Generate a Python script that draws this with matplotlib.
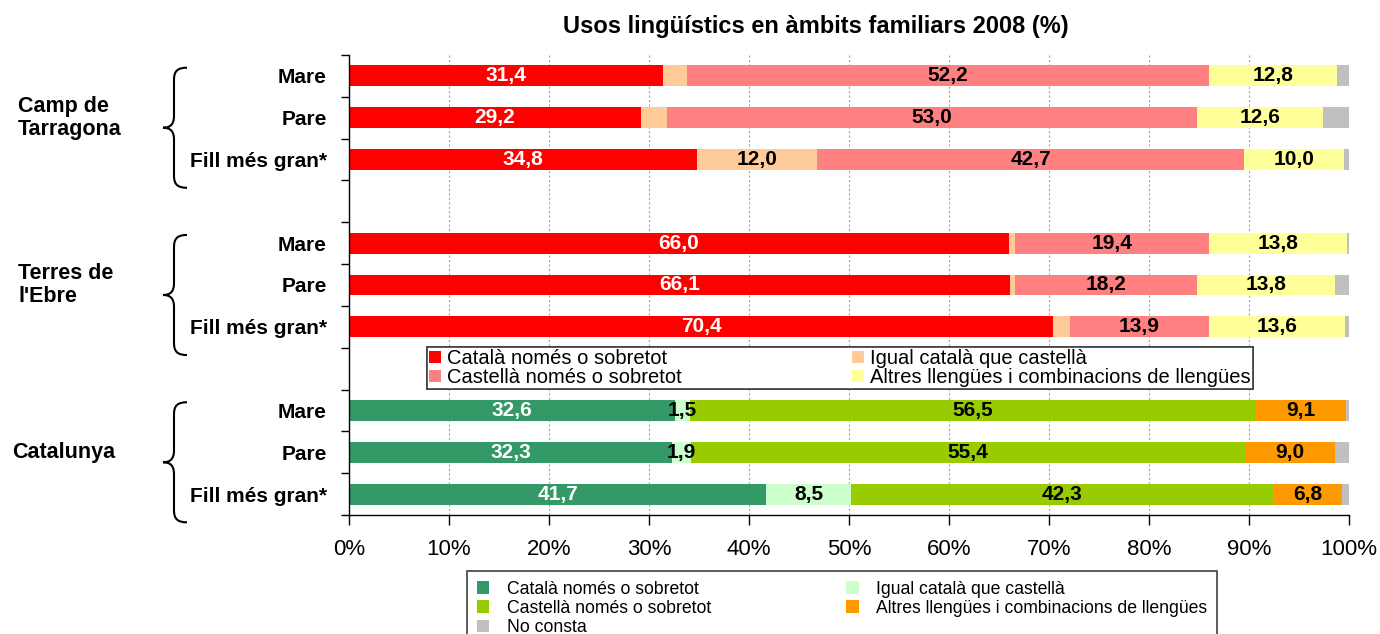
import numpy as np
import matplotlib
matplotlib.use('Agg')
import matplotlib.pyplot as plt
from matplotlib.path import Path
from matplotlib.patches import PathPatch
from matplotlib import transforms

plt.rcParams['font.family'] = ['Liberation Sans', 'DejaVu Sans']

# --- data (%), rows: Camp de Tarragona x3, Terres de l'Ebre x3, Catalunya x3
groups = ["Camp de\nTarragona", "Terres de\nl'Ebre", "Catalunya"]
members = ["Mare", "Pare", "Fill més gran*"]
catala = [31.4, 29.2, 34.8, 66.0, 66.1, 70.4, 32.6, 32.3, 41.7]
igual = [2.4, 2.6, 12.0, 0.6, 0.5, 1.7, 1.5, 1.9, 8.5]
castella = [52.2, 53.0, 42.7, 19.4, 18.2, 13.9, 56.5, 55.4, 42.3]
altres = [12.8, 12.6, 10.0, 13.8, 13.8, 13.6, 9.1, 9.0, 6.8]
no_consta = [1.2, 2.6, 0.5, 0.2, 1.4, 0.4, 0.3, 1.4, 0.7]
show_igual = [False, False, True, False, False, False, True, True, True]

seg_names = ['Català només o sobretot', 'Igual català que castellà',
             'Castellà només o sobretot',
             'Altres llengües i combinacions de llengües', 'No consta']
red_colors = ['#FF0000', '#FFCC99', '#FF8080', '#FFFF99', '#C0C0C0']
green_colors = ['#339966', '#CCFFCC', '#99CC00', '#FF9900', '#C0C0C0']

segments = [catala, igual, castella, altres, no_consta]
shows = [[True] * 9, show_igual, [True] * 9, [True] * 9, [False] * 9]
slots = np.array([0, 1, 2, 4, 5, 6, 8, 9, 10])

W, H = 1380, 634
fig = plt.figure(figsize=(W / 100, H / 100), dpi=100)
ax = fig.add_axes([349 / W, 1 - 515 / H, 1000 / W, 460 / H])

left = np.zeros(9)
cont_red, cont_green = [], []
for k, vals in enumerate(segments):
    vals = np.array(vals)
    cr = ax.barh(slots[:6], vals[:6], left=left[:6], height=0.5,
                 color=red_colors[k], zorder=2, label=seg_names[k])
    cg = ax.barh(slots[6:], vals[6:], left=left[6:], height=0.5,
                 color=green_colors[k], zorder=2, label=seg_names[k])
    left += vals
    labs = [f"{v:.1f}".replace('.', ',') if s else '' for v, s in zip(vals, shows[k])]
    col = 'white' if k == 0 else 'black'
    ax.bar_label(cr, labels=labs[:6], label_type='center', color=col,
                 fontsize=15, fontweight='bold', zorder=3)
    ax.bar_label(cg, labels=labs[6:], label_type='center', color=col,
                 fontsize=15, fontweight='bold', zorder=3)
    cont_red.append(cr)
    cont_green.append(cg)

ax.set_xlim(0, 100)
ax.set_ylim(10.5, -0.5)
ax.set_xticks(np.arange(0, 101, 10))
ax.set_xticklabels([f"{t}%" for t in range(0, 101, 10)], fontsize=16)
ax.tick_params(axis='x', direction='out', length=7, width=1, pad=10)
ax.set_yticks(np.arange(-0.5, 11, 1))
ax.set_yticklabels([])
ax.tick_params(axis='y', which='major', direction='out', length=6, width=1)
ax.set_yticks(slots, minor=True)
ax.set_yticklabels(members * 3, minor=True, fontsize=15, fontweight='bold')
ax.tick_params(axis='y', which='minor', length=0, pad=16)
ax.xaxis.grid(True, linestyle=(0, (2, 2)), color='#A6A6A6', linewidth=0.8, zorder=0)
ax.set_axisbelow(True)
for s in ['top', 'right']:
    ax.spines[s].set_visible(False)
for s in ['left', 'bottom']:
    ax.spines[s].set_linewidth(1)

# group labels and braces
blend = transforms.blended_transform_factory(fig.transFigure, ax.transData)
brace_tr = transforms.blended_transform_factory(ax.transAxes, ax.transData)
xe, xs, xt = -0.162, -0.175, -0.186
dx = 0.001
dy = 1 / 41.8
for g, name in enumerate(groups):
    c = slots[3 * g + 1]
    ax.text(18 / W if g < 2 else 12 / W, c, name, transform=blend, ha='left',
            va='center', fontsize=15.5, fontweight='bold', linespacing=1.1)
    tip = c + 10 * dy
    top, bot = tip - 60 * dy, tip + 60 * dy
    verts = [(xe, top), (xe - 9 * dx, top), (xs, top + 3 * dy), (xs, top + 12 * dy),
             (xs, tip - 12 * dy),
             (xs, tip - 3 * dy), (xs - 4 * dx, tip), (xt, tip),
             (xs - 4 * dx, tip), (xs, tip + 3 * dy), (xs, tip + 12 * dy),
             (xs, bot - 12 * dy),
             (xs, bot - 3 * dy), (xe - 9 * dx, bot), (xe, bot)]
    codes = [Path.MOVETO, Path.CURVE4, Path.CURVE4, Path.CURVE4, Path.LINETO,
             Path.CURVE4, Path.CURVE4, Path.CURVE4,
             Path.CURVE4, Path.CURVE4, Path.CURVE4, Path.LINETO,
             Path.CURVE4, Path.CURVE4, Path.CURVE4]
    ax.add_patch(PathPatch(Path(verts, codes), transform=brace_tr, fill=False,
                           lw=1.5, edgecolor='black', clip_on=False))

# legends
h1 = [cont_red[0], cont_red[2], cont_red[1], cont_red[3]]
l1 = [seg_names[0], seg_names[2], seg_names[1], seg_names[3]]
leg1 = ax.legend(h1, l1, loc='upper left',
                 bbox_to_anchor=(427 / W, 1 - 392 / H, 826 / W, 45 / H),
                 bbox_transform=fig.transFigure, mode='expand', ncol=2,
                 fontsize=14.5, fancybox=False, edgecolor='#404040',
                 borderaxespad=0, handlelength=0.6, handleheight=0.6,
                 handletextpad=0.3, labelspacing=0.0, borderpad=0.1,
                 framealpha=1)
leg1.get_frame().set_linewidth(1.2)
leg1.set_zorder(5)
ax.add_artist(leg1)

h2 = [cont_green[0], cont_green[2], cont_green[4], cont_green[1], cont_green[3]]
l2 = [seg_names[0], seg_names[2], seg_names[4], seg_names[1], seg_names[3]]
leg2 = fig.legend(h2, l2, loc='upper left',
                  bbox_to_anchor=(467 / W, 1 - 640 / H, 750 / W, 69 / H),
                  bbox_transform=fig.transFigure, mode='expand', ncol=2,
                  fontsize=12.7, fancybox=False, edgecolor='#404040',
                  borderaxespad=0, handlelength=0.7, handleheight=0.7,
                  handletextpad=1.0, labelspacing=0.12, borderpad=0.55,
                  framealpha=1)
leg2.get_frame().set_linewidth(1.2)

fig.text(816 / W, 1 - 27 / H, 'Usos lingüístics en àmbits familiars 2008 (%)',
         ha='center', va='center', fontsize=17, fontweight='bold')

fig.savefig('out.png', dpi=100)
